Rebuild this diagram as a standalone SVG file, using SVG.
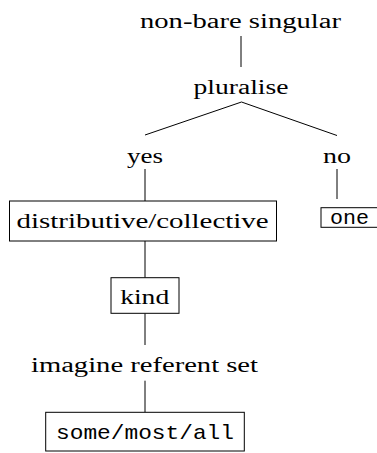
<svg xmlns="http://www.w3.org/2000/svg" width="377" height="453" viewBox="0 0 377 453">
<style>
.t{font-family:'Liberation Serif','Times New Roman',serif;font-size:20px;fill:#000;text-anchor:middle}
.m{font-family:'Liberation Mono','Courier New',monospace;font-size:21px;fill:#000;text-anchor:middle}
.b{fill:#fff;stroke:#000;stroke-width:1}
.c line{stroke:#000;stroke-width:1}
</style>
<rect width="377" height="453" fill="#fff"/>
<g class="c" id="connectors">
<line x1="241" y1="36" x2="241" y2="67"/>
<line x1="241.5" y1="102" x2="145" y2="135"/>
<line x1="241.5" y1="102" x2="337" y2="135.5"/>
<line x1="145" y1="169" x2="145" y2="201"/>
<line x1="337" y1="169" x2="337" y2="199"/>
<line x1="145" y1="241" x2="145" y2="277.7"/>
<line x1="145" y1="313.3" x2="145" y2="345"/>
<line x1="145" y1="380.7" x2="145" y2="412.3"/>
</g>
<g id="n-root"><text class="t" x="240.5" y="28" textLength="201" lengthAdjust="spacingAndGlyphs">non-bare singular</text></g>
<g id="n-pluralise"><text class="t" x="241" y="94" textLength="95" lengthAdjust="spacingAndGlyphs">pluralise</text></g>
<g id="n-yes"><text class="t" x="145" y="163" textLength="36" lengthAdjust="spacingAndGlyphs">yes</text></g>
<g id="n-no"><text class="t" x="337" y="163" textLength="28" lengthAdjust="spacingAndGlyphs">no</text></g>
<g id="n-distcoll"><rect class="b" x="9.5" y="201" width="267" height="40"/><text class="t" x="142.6" y="228" textLength="252" lengthAdjust="spacingAndGlyphs">distributive/collective</text></g>
<g id="n-one"><rect class="b" x="321" y="207.7" width="58" height="19.6"/><text class="m" x="349.5" y="224" textLength="39" lengthAdjust="spacingAndGlyphs">one</text></g>
<g id="n-kind"><rect class="b" x="111" y="277.7" width="68" height="35.6"/><text class="t" x="144.7" y="304.3" textLength="49" lengthAdjust="spacingAndGlyphs">kind</text></g>
<g id="n-imagine"><text class="t" x="144.5" y="371.5" textLength="227" lengthAdjust="spacingAndGlyphs">imagine referent set</text></g>
<g id="n-some"><rect class="b" x="45.7" y="412.3" width="198.6" height="38.7"/><text class="m" x="145" y="439" textLength="178" lengthAdjust="spacingAndGlyphs">some/most/all</text></g>
</svg>
